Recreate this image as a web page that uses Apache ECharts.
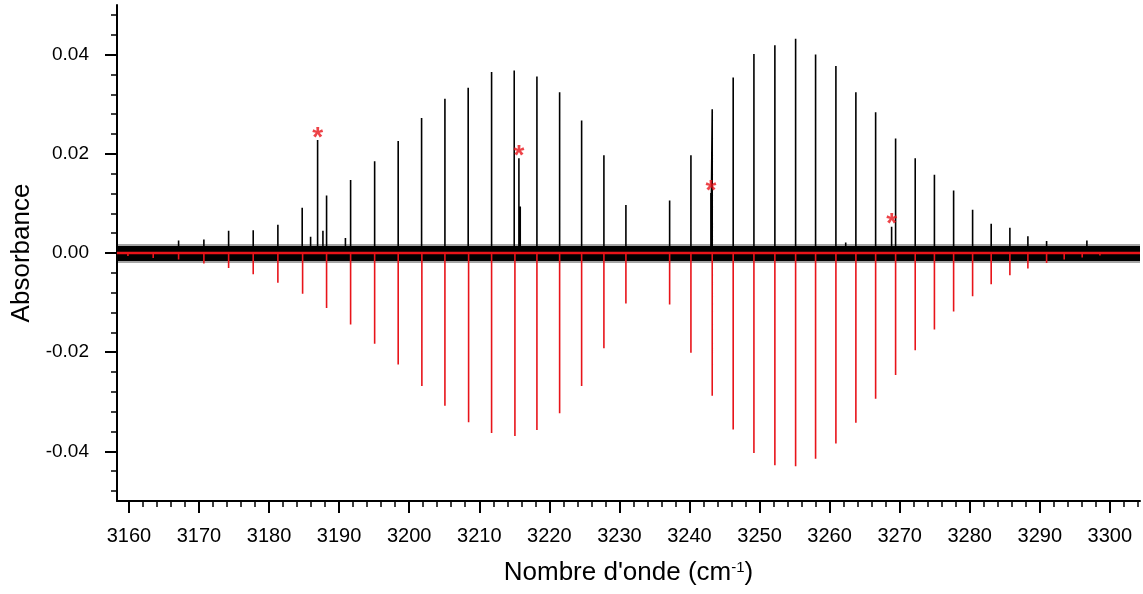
<!DOCTYPE html>
<html><head><meta charset="utf-8">
<script src="https://cdn.jsdelivr.net/npm/echarts@6/dist/echarts.min.js"></script>
<style>html,body{margin:0;padding:0;background:#fff}#c{width:1143px;height:594px}</style>
</head><body><div id="c"></div>
<script>
// ---- axis ranges & tick labels ----
const xMin = 3158.3, xMax = 3304.3;
const yMin = -0.05, yMax = 0.05;
const xTickLabels = [3160, 3170, 3180, 3190, 3200, 3210, 3220, 3230, 3240, 3250, 3260, 3270, 3280, 3290, 3300];
const yTickLabels = [-0.04, -0.02, 0.00, 0.02, 0.04];

// ---- experimental spectrum (black): line positions and absorbances ----
const expX = [3167.09, 3170.70, 3174.23, 3177.74, 3181.26, 3184.73, 3185.93, 3186.93, 3187.69, 3188.21,
  3190.9, 3191.64, 3195.07, 3198.43, 3201.77, 3205.10, 3208.42, 3211.76, 3214.99, 3215.66,
  3215.85, 3218.23, 3221.47, 3224.61, 3227.79, 3230.93, 3237.17, 3240.21, 3243.06, 3243.25,
  3246.24, 3249.20, 3252.19, 3255.15, 3258.00, 3260.90, 3262.3, 3263.75, 3266.57, 3268.85,
  3269.42, 3272.22, 3274.96, 3277.70, 3280.41, 3283.06, 3285.73, 3288.30, 3290.97, 3296.72];
const expY = [0.0025, 0.0027, 0.0045, 0.0046, 0.0057, 0.0091, 0.0033, 0.0228, 0.0045, 0.0116,
  0.0030, 0.0147, 0.0185, 0.0226, 0.0272, 0.0311, 0.0333, 0.0365, 0.0368, 0.0191,
  0.0094, 0.0356, 0.0324, 0.0267, 0.0197, 0.0097, 0.0106, 0.0197, 0.0121, 0.0290,
  0.0354, 0.0401, 0.0419, 0.0432, 0.0400, 0.0377, 0.0021, 0.0324, 0.0284, 0.0053,
  0.0231, 0.0191, 0.0158, 0.0126, 0.0087, 0.0059, 0.0051, 0.0034, 0.0024, 0.0025];
// baseline noise band limits (absorbance)
const noiseUpper = 0.0014, noiseLower = -0.0016;
const fringeUpper = 0.0018, fringeLower = -0.0020;

// ---- simulated stick spectrum (red, plotted negative) ----
const simX = [3159.86, 3163.47, 3167.09, 3170.70, 3174.23, 3177.74, 3181.26, 3184.79, 3188.21, 3191.64,
  3195.07, 3198.43, 3201.81, 3205.10, 3208.48, 3211.76, 3215.09, 3218.23, 3221.47, 3224.61,
  3227.79, 3230.93, 3237.17, 3240.21, 3243.25, 3246.24, 3249.20, 3252.19, 3255.15, 3258.00,
  3260.90, 3263.75, 3266.57, 3269.42, 3272.22, 3274.96, 3277.70, 3280.41, 3283.06, 3285.73,
  3288.30, 3290.97, 3293.48, 3296.05, 3298.58, 3301.05, 3303.58];
const simY = [-0.0006, -0.0010, -0.0013, -0.0021, -0.0030, -0.0043, -0.0060, -0.0082, -0.0111, -0.0144,
  -0.0183, -0.0225, -0.0268, -0.0308, -0.0341, -0.0363, -0.0369, -0.0357, -0.0323, -0.0268,
  -0.0192, -0.0102, -0.0104, -0.0201, -0.0288, -0.0356, -0.0403, -0.0428, -0.0430, -0.0415,
  -0.0384, -0.0342, -0.0294, -0.0246, -0.0196, -0.0154, -0.0118, -0.0087, -0.0063, -0.0045,
  -0.0031, -0.0020, -0.0013, -0.0009, -0.0005, -0.0002, -0.0001];

// ---- starred (impurity) lines ----
const starX = [3186.93, 3215.66, 3243.06, 3268.85];
const starY = [0.0228, 0.0191, 0.0121, 0.0053];

// ---- build stick polylines ----
function sticks(xs, ys) {
  const d = [[xMin, 0]];
  xs.forEach((x, i) => { d.push([x, 0], [x, ys[i]], [x, 0]); });
  d.push([xMax, 0]);
  return d;
}
const xMinor = [];
for (let v = 3160; v <= xMax; v += 2) if (v % 10 !== 0) xMinor.push(v);
const yMinor = [];
for (let k = -12; k <= 12; k++) { if (k % 5 !== 0) yMinor.push(+(k * 0.004).toFixed(3)); }

const FONT = 'Liberation Sans, Arial, sans-serif';
const RED = '#e8141a';
const chart = echarts.init(document.getElementById('c'), null, {renderer: 'canvas'});

const baseX = {type: 'value', min: xMin, max: xMax, position: 'bottom', splitLine: {show: false}};
const baseY = {type: 'value', min: yMin, max: yMax, position: 'left', splitLine: {show: false}};

chart.setOption({
  animation: false,
  backgroundColor: '#fff',
  grid: {left: 117, right: 3, top: 5, bottom: 93, containLabel: false},
  xAxis: [
    Object.assign({}, baseX, {
      axisLine: {show: true, onZero: false, lineStyle: {color: '#000', width: 2}},
      axisTick: {show: true, inside: false, length: 12, customValues: xTickLabels, lineStyle: {color: '#000', width: 2}},
      axisLabel: {show: true, customValues: xTickLabels, margin: 25, color: '#000', fontSize: 20, fontFamily: FONT,
        formatter: v => String(Math.round(v))},
      name: "Nombre d'onde (cm{sup|-1})",
      nameLocation: 'middle', nameGap: 59,
      nameTextStyle: {color: '#000', fontSize: 26, fontFamily: FONT,
        rich: {sup: {fontSize: 15, fontFamily: FONT, color: '#000', verticalAlign: 'top', lineHeight: 26}}}
    }),
    Object.assign({}, baseX, {
      axisLine: {show: false, onZero: false},
      axisTick: {show: true, inside: false, length: 6, customValues: xMinor, lineStyle: {color: '#000', width: 1.5}},
      axisLabel: {show: false}
    })
  ],
  yAxis: [
    Object.assign({}, baseY, {
      axisLine: {show: true, onZero: false, lineStyle: {color: '#000', width: 2}},
      axisTick: {show: true, inside: false, length: 12, customValues: yTickLabels, lineStyle: {color: '#000', width: 2}},
      axisLabel: {show: true, customValues: yTickLabels, margin: 28, color: '#000', fontSize: 19, fontFamily: FONT,
        formatter: v => v.toFixed(2)},
      name: 'Absorbance', nameLocation: 'middle', nameGap: 78,
      nameTextStyle: {color: '#000', fontSize: 26, fontFamily: FONT}
    }),
    Object.assign({}, baseY, {
      axisLine: {show: false, onZero: false},
      axisTick: {show: true, inside: false, length: 6, customValues: yMinor, lineStyle: {color: '#000', width: 1.5}},
      axisLabel: {show: false}
    })
  ],
  series: [
    {type: 'line', name: 'fringe+', data: [[xMin, fringeUpper], [xMax, fringeUpper]], showSymbol: false,
      lineStyle: {width: 0}, areaStyle: {color: 'rgba(0,0,0,0.5)'}, z: 1, silent: true},
    {type: 'line', name: 'fringe-', data: [[xMin, fringeLower], [xMax, fringeLower]], showSymbol: false,
      lineStyle: {width: 0}, areaStyle: {color: 'rgba(0,0,0,0.5)'}, z: 1, silent: true},
    {type: 'line', name: 'noise+', data: [[xMin, noiseUpper], [xMax, noiseUpper]], showSymbol: false,
      lineStyle: {width: 0}, areaStyle: {color: '#000', opacity: 1}, z: 2, silent: true},
    {type: 'line', name: 'noise-', data: [[xMin, noiseLower], [xMax, noiseLower]], showSymbol: false,
      lineStyle: {width: 0}, areaStyle: {color: '#000', opacity: 1}, z: 2, silent: true},
    {type: 'line', name: 'Expérience', data: sticks(expX, expY), showSymbol: false, sampling: null,
      lineStyle: {color: '#000', width: 1.6}, z: 3, silent: true},
    {type: 'line', name: 'zero', data: [[xMin, 0], [xMax, 0]], showSymbol: false,
      lineStyle: {color: RED, width: 2.5}, z: 4, silent: true},
    {type: 'line', name: 'Simulation', data: sticks(simX, simY), showSymbol: false, sampling: null,
      lineStyle: {color: RED, width: 1.6}, z: 5, silent: true},
    {type: 'scatter', name: 'stars', data: starX.map((x, i) => [x, starY[i]]), symbolSize: 0, z: 6, silent: true,
      label: {show: true, position: 'top', distance: -12, formatter: '*', color: RED, fontSize: 28,
        fontWeight: 'bold', fontFamily: FONT}}
  ]
});
</script></body></html>
